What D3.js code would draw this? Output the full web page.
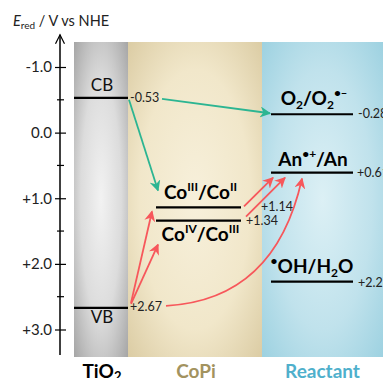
<!DOCTYPE html>
<html>
<head>
<meta charset="utf-8">
<script src="https://cdn.jsdelivr.net/npm/d3@7"></script>
<style>
  body { margin: 0; background: #fff; }
  svg { display: block; font-family: Lato, "Open Sans", sans-serif; }
</style>
</head>
<body>
<svg id="chart" width="383" height="378"></svg>
<script>
// data
const panelNames = ["TiO2", "CoPi", "Reactant"];
const levelNames = ["CB", "VB", "CoIII", "CoIV", "O2", "An", "OH"];
const levelValues = [-0.53, 2.67, 1.14, 1.34, -0.28, 0.61, 2.27];
const levelPanels = ["TiO2", "TiO2", "CoPi", "CoPi", "Reactant", "Reactant", "Reactant"];
const valueLabels = ["-0.53", "+2.67", "+1.14", "+1.34", "-0.28", "+0.61", "+2.27"];
const yTicks = [-1, 0, 1, 2, 3];
const yTickLabels = ["-1.0", "0.0", "+1.0", "+2.0", "+3.0"];
const transferFrom = ["CB", "CB", "VB", "VB", "CoIII", "CoIV", "VB"];
const transferTo = ["O2", "CoIII", "CoIII", "CoIV", "An", "An", "An"];

// layout
const svg = d3.select("#chart");
const y = d3.scaleLinear().domain([-1, 3]).range([67, 329.5]);
const panelX = d3.scaleOrdinal().domain(panelNames).range([[74, 128], [128, 262], [262, 383]]);
const lineX = d3.scaleOrdinal().domain(panelNames).range([[74, 128], [156, 241], [271, 353]]);
const panelTop = 42, panelBottom = 357;

const defs = svg.append("defs");
function radial(id, stops) {
  const g = defs.append("radialGradient").attr("id", id)
    .attr("cx", "50%").attr("cy", "50%").attr("r", "75%");
  stops.forEach(([o, c]) => g.append("stop").attr("offset", o).attr("stop-color", c));
}
radial("gTiO2", [["0%", "#f2f2f2"], ["50%", "#dcdcdc"], ["100%", "#9e9e9e"]]);
radial("gCoPi", [["0%", "#f7f0db"], ["55%", "#f1e7ca"], ["100%", "#d8c89e"]]);
radial("gReactant", [["0%", "#dcf0f5"], ["55%", "#c0e2ec"], ["100%", "#98cfdf"]]);

svg.selectAll("rect.panel").data(panelNames).join("rect")
  .attr("class", "panel")
  .attr("x", d => panelX(d)[0])
  .attr("width", d => panelX(d)[1] - panelX(d)[0])
  .attr("y", panelTop).attr("height", panelBottom - panelTop)
  .attr("fill", d => `url(#g${d})`);

// axis
const axis = svg.append("g").attr("transform", "translate(60,0)");
axis.call(d3.axisLeft(y).tickValues(yTicks).tickFormat((d, i) => yTickLabels[i]).tickSize(5))
  .call(g => g.select(".domain").remove());
axis.selectAll(".tick line").attr("x1", -5).attr("x2", 6).attr("stroke", "#000").attr("stroke-width", 1.2);
axis.selectAll(".tick text").attr("x", -8).attr("font-size", 15).attr("fill", "#222")
  .attr("font-family", "Lato, sans-serif");
axis.selectAll("line.minor").data(yTicks.slice(0, -1).map(d => d + 0.5)).join("line")
  .attr("class", "minor")
  .attr("x1", -3).attr("x2", 4)
  .attr("y1", d => y(d)).attr("y2", d => y(d))
  .attr("stroke", "#000").attr("stroke-width", 1.2);
axis.append("line").attr("x1", 0).attr("x2", 0)
  .attr("y1", y(-1.49)).attr("y2", y(3.39))
  .attr("stroke", "#000").attr("stroke-width", 1.5);
axis.append("path").attr("d", `M-4.5,${y(-1.49) + 9}L0,${y(-1.49)}L4.5,${y(-1.49) + 9}`)
  .attr("fill", "none").attr("stroke", "#000").attr("stroke-width", 1.2);

const title = svg.append("text").attr("x", 13).attr("y", 26).attr("font-size", 14.5).attr("fill", "#222");
title.append("tspan").attr("font-style", "italic").text("E");
title.append("tspan").attr("font-size", 10).attr("dy", 3).text("red");
title.append("tspan").attr("dy", -3).text(" / V vs NHE");

// level lines
const levels = levelNames.map((name, i) => ({
  name, value: levelValues[i], panel: levelPanels[i], label: valueLabels[i]
}));
const byName = Object.fromEntries(levels.map(d => [d.name, d]));

svg.selectAll("line.level").data(levels).join("line")
  .attr("class", "level")
  .attr("x1", d => lineX(d.panel)[0]).attr("x2", d => lineX(d.panel)[1])
  .attr("y1", d => y(d.value)).attr("y2", d => y(d.value))
  .attr("stroke", "#000").attr("stroke-width", 2.2);

// value labels
const valueOffsets = { CB: [2, 4], VB: [2, 3], CoIII: [20, 4], CoIV: [5, 4], O2: [5, 4], An: [4, 4], OH: [5, 5] };
svg.selectAll("text.value").data(levels).join("text")
  .attr("class", "value")
  .attr("x", d => lineX(d.panel)[1] + valueOffsets[d.name][0])
  .attr("y", d => y(d.value) + valueOffsets[d.name][1])
  .attr("font-size", 12.5).attr("fill", "#222")
  .text(d => d.label);

// species labels
function species(x, yy, parts) {
  const t = svg.append("text").attr("x", x).attr("y", yy)
    .attr("text-anchor", "middle").attr("font-size", 19).attr("font-weight", "bold").attr("fill", "#000");
  let shift = 0;
  parts.forEach(([txt, mode]) => {
    const want = mode === "sup" ? -8 : mode === "sub" ? 4 : 0;
    const s = t.append("tspan").attr("dy", want - shift).text(txt);
    if (mode) s.attr("font-size", 12);
    shift = want;
  });
  return t;
}
const mid = p => (lineX(p)[0] + lineX(p)[1]) / 2;
svg.append("text").attr("x", 102).attr("y", y(byName.CB.value) - 7)
  .attr("text-anchor", "middle").attr("font-size", 17).attr("fill", "#111").text("CB");
svg.append("text").attr("x", 102).attr("y", y(byName.VB.value) + 15)
  .attr("text-anchor", "middle").attr("font-size", 17).attr("fill", "#111").text("VB");
species(mid("CoPi") + 2, y(byName.CoIII.value) - 8, [["Co"], ["III", "sup"], ["/Co"], ["II", "sup"]]);
species(mid("CoPi") + 2, y(byName.CoIV.value) + 20, [["Co"], ["IV", "sup"], ["/Co"], ["III", "sup"]]);
species(mid("Reactant") + 2, y(byName.O2.value) - 9, [["O"], ["2", "sub"], ["/O"], ["2", "sub"], ["\u2022\u2012", "sup"]]);
species(mid("Reactant") + 1, y(byName.An.value) - 7, [["An"], ["\u2022+", "sup"], ["/An"]]);
species(mid("Reactant"), y(byName.OH.value) - 9, [["\u2022", "sup"], ["OH/H"], ["2", "sub"], ["O"]]);

// bottom panel names
const panelColors = ["#000", "#a3935f", "#4fb0cc"];
const panelText = svg.selectAll("text.pname").data(panelNames).join("text")
  .attr("class", "pname")
  .attr("x", d => (panelX(d)[0] + panelX(d)[1]) / 2 + (d === "Reactant" ? 0 : 1))
  .attr("y", 378).attr("text-anchor", "middle")
  .attr("font-size", 19).attr("font-weight", "bold")
  .attr("fill", (d, i) => panelColors[i]);
panelText.each(function (d) {
  const t = d3.select(this);
  if (d === "TiO2") {
    t.append("tspan").text("TiO");
    t.append("tspan").attr("font-size", 13).attr("dy", 3).text("2");
  } else t.text(d);
});

// arrows
function marker(id, color) {
  defs.append("marker").attr("id", id)
    .attr("markerUnits", "userSpaceOnUse")
    .attr("viewBox", "0 0 10 10").attr("refX", 9).attr("refY", 5)
    .attr("markerWidth", 11).attr("markerHeight", 11).attr("orient", "auto")
    .append("path").attr("d", "M0,0L10,5L0,10L3,5Z").attr("fill", color);
}
const green = "#2cb592", red = "#f7575b";
marker("mGreen", green);
marker("mRed", red);

// endpoint tweaks per transfer: [startDx, startDy, endDx, endDy, bend]
const arrowTweaks = [
  [34, 1, -1, -1, null],
  [1, 2, 2, -17, null],
  [3, -5, -4, 4, null],
  [3, -4, 2, 24, null],
  [3, -1, 2, 5, null],
  [5, -4, 14, 5, null],
  [38, -2, 31, 6, [275, 300]]
];
transferFrom.forEach((from, i) => {
  const a = byName[from], b = byName[transferTo[i]];
  const [sdx, sdy, edx, edy, bend] = arrowTweaks[i];
  const x0 = lineX(a.panel)[1] + sdx, y0 = y(a.value) + sdy;
  const x1 = lineX(b.panel)[0] + edx, y1 = y(b.value) + edy;
  const p = d3.path();
  p.moveTo(x0, y0);
  if (bend) p.quadraticCurveTo(bend[0], bend[1], x1, y1);
  else p.lineTo(x1, y1);
  const c = from === "CB" ? green : red;
  svg.append("path").attr("d", p.toString())
    .attr("fill", "none").attr("stroke", c).attr("stroke-width", 1.8)
    .attr("marker-end", `url(#${from === "CB" ? "mGreen" : "mRed"})`);
});
</script>
</body>
</html>
